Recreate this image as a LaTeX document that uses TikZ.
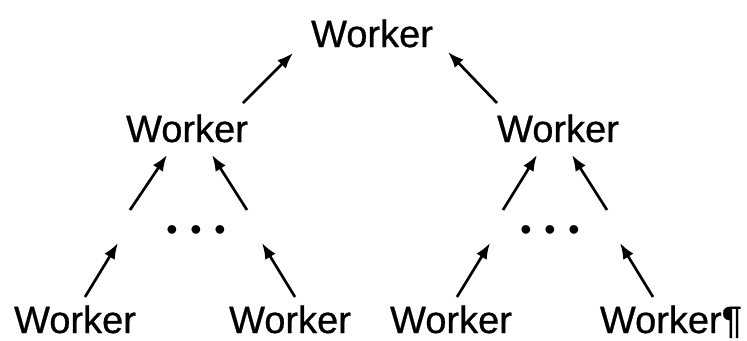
\documentclass[tikz,border=0pt]{standalone}
\usepackage{fontspec}
\setmainfont{Liberation Sans}
\newfontfamily\workerfont{Liberation Sans}[FakeBold=0.7]
\usepackage{tikz}
\usetikzlibrary{arrows.meta}
\newcommand{\dotrow}{\textbullet\hspace{9.6pt}\textbullet\hspace{9.6pt}\textbullet}

\begin{document}
\begin{tikzpicture}[
  x=0.75pt,y=-0.75pt,
  worker/.style={anchor=base,inner sep=0pt,font=\workerfont\fontsize{28.5}{30}\selectfont},
  dotsbox/.style={inner sep=0pt,font=\fontsize{24}{24}\selectfont},
  flow/.style={-{Latex[length=12pt,width=9pt]},line width=2pt}
]
\useasboundingbox (0,0) rectangle (747,340);
\node[worker] (top) at (372,47) {Worker};
\node[worker] (wl) at (187,142) {Worker};
\node[worker] (wr) at (558,142) {Worker};
\node[worker] (b1) at (75,333) {Worker};
\node[worker] (b2) at (290,333) {Worker};
\node[worker] (b3) at (451,333) {Worker};
\node[worker] (b4) at (671,333) {Worker\P};
\node[dotsbox] (dotsl) at (196,233) {\dotrow};
\node[dotsbox] (dotsr) at (550,233) {\dotrow};
\coordinate (gl1) at (118,243);
\coordinate (gl2) at (262,243);
\coordinate (gl3) at (130,210);
\coordinate (gl4) at (247,210);
\coordinate (gr1) at (490,243);
\coordinate (gr2) at (620,243);
\coordinate (gr3) at (503,210);
\coordinate (gr4) at (607,210);
\draw[flow] ([shift={(56,-39)}]wl.base)--([shift={(-79,6)}]top.base);
\draw[flow] ([shift={(-61,-39)}]wr.base)--([shift={(76,5)}]top.base);
\draw[flow] (gl3)--([shift={(-20,13)}]wl.base);
\draw[flow] (gl4)--([shift={(25,13)}]wl.base);
\draw[flow] ([shift={(10,-36)}]b1.base)--(gl1);
\draw[flow] ([shift={(5,-36)}]b2.base)--(gl2);
\draw[flow] (gr3)--([shift={(-21,13)}]wr.base);
\draw[flow] (gr4)--([shift={(14,13)}]wr.base);
\draw[flow] ([shift={(6,-36)}]b3.base)--(gr1);
\draw[flow] ([shift={(-18,-36)}]b4.base)--(gr2);
\end{tikzpicture}
\end{document}
